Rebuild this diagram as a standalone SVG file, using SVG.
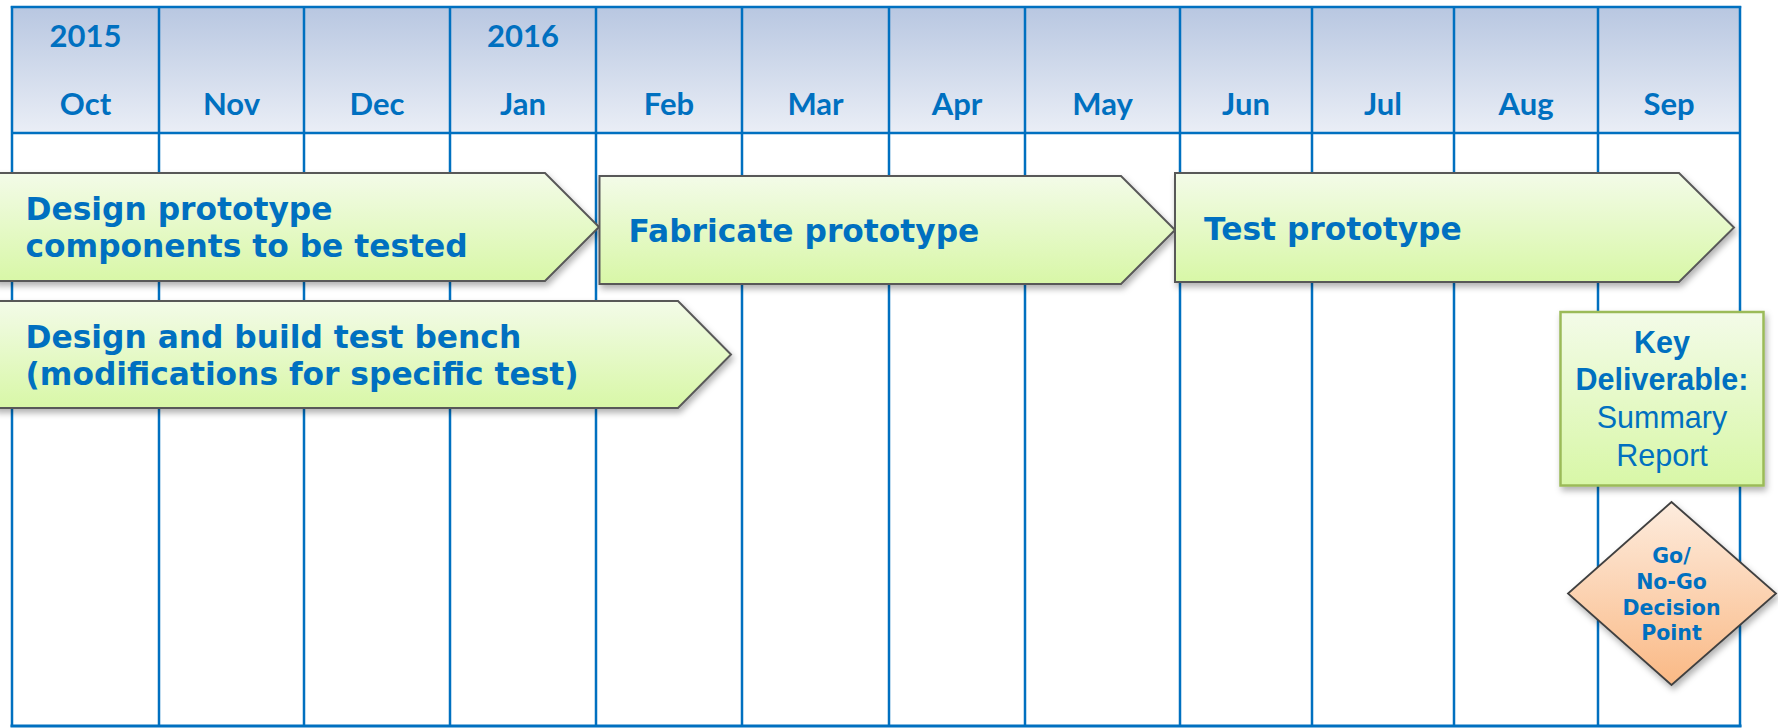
<svg xmlns="http://www.w3.org/2000/svg" width="1778" height="728" viewBox="0 0 1778 728">
  <defs>
    <linearGradient id="hdrFill" x1="0" y1="0" x2="0" y2="1">
      <stop offset="0" stop-color="#B8C7E1"/>
      <stop offset="1" stop-color="#EAEEF6"/>
    </linearGradient>
    <linearGradient id="taskFill" x1="0" y1="0" x2="0" y2="1">
      <stop offset="0" stop-color="#F3FBE8"/>
      <stop offset="1" stop-color="#D8F7A7"/>
    </linearGradient>
    <linearGradient id="gateFill" x1="0" y1="0" x2="0" y2="1">
      <stop offset="0" stop-color="#FDECDE"/>
      <stop offset="1" stop-color="#FAB985"/>
    </linearGradient>
    <filter id="shadow" x="-10%" y="-20%" width="120%" height="150%">
      <feDropShadow dx="2" dy="4" stdDeviation="3" flood-color="#000" flood-opacity="0.3"/>
    </filter>
  </defs>
  <style>
    .grid { stroke: #0070C0; stroke-width: 2.5; fill: none; }
    .hdr { font-family: Lato, "Open Sans", "Liberation Sans", sans-serif; font-weight: 700; font-size: 31px; fill: #0070C0; text-anchor: middle; }
    .task { fill: url(#taskFill); stroke: #595959; stroke-width: 2; filter: url(#shadow); }
    .tlabel { font-family: "DejaVu Sans", Verdana, sans-serif; font-weight: 700; font-size: 31.3px; fill: #0070C0; }
    .deliv { fill: url(#taskFill); stroke: #9BBB59; stroke-width: 2.5; filter: url(#shadow); }
    .dlabel { font-family: "Liberation Sans", Arial, sans-serif; font-size: 30.5px; fill: #0070C0; text-anchor: middle; }
    .gate { fill: url(#gateFill); stroke: #404040; stroke-width: 1.8; filter: url(#shadow); }
    .glabel { font-family: "DejaVu Sans", Verdana, sans-serif; font-weight: 700; font-size: 20.5px; fill: #0070C0; text-anchor: middle; }
  </style>

  <rect width="1778" height="728" fill="#FFFFFF"/>

  <!-- month header band -->
  <g id="header">
    <rect x="12" y="7" width="1728" height="126" fill="url(#hdrFill)"/>
    <text class="hdr" x="85.5" y="47">2015</text>
    <text class="hdr" x="523" y="47">2016</text>
    <text class="hdr" x="85.5" y="115">Oct</text>
    <text class="hdr" x="231.5" y="115">Nov</text>
    <text class="hdr" x="377" y="115">Dec</text>
    <text class="hdr" x="523" y="115">Jan</text>
    <text class="hdr" x="669" y="115">Feb</text>
    <text class="hdr" x="815.5" y="115">Mar</text>
    <text class="hdr" x="957" y="115">Apr</text>
    <text class="hdr" x="1102.5" y="115">May</text>
    <text class="hdr" x="1246" y="115">Jun</text>
    <text class="hdr" x="1383" y="115">Jul</text>
    <text class="hdr" x="1526" y="115">Aug</text>
    <text class="hdr" x="1669" y="115">Sep</text>
  </g>

  <!-- calendar grid -->
  <g id="grid" class="grid">
    <line x1="10.8" y1="7" x2="1741.2" y2="7"/>
    <line x1="12" y1="133" x2="1740" y2="133"/>
    <line x1="10.5" y1="726" x2="1741.5" y2="726" stroke-width="3"/>
    <line x1="12" y1="6" x2="12" y2="727"/>
    <line x1="159" y1="6" x2="159" y2="727"/>
    <line x1="304" y1="6" x2="304" y2="727"/>
    <line x1="450" y1="6" x2="450" y2="727"/>
    <line x1="596" y1="6" x2="596" y2="727"/>
    <line x1="742" y1="6" x2="742" y2="727"/>
    <line x1="889" y1="6" x2="889" y2="727"/>
    <line x1="1025" y1="6" x2="1025" y2="727"/>
    <line x1="1180" y1="6" x2="1180" y2="727"/>
    <line x1="1312" y1="6" x2="1312" y2="727"/>
    <line x1="1454" y1="6" x2="1454" y2="727"/>
    <line x1="1598" y1="6" x2="1598" y2="727"/>
    <line x1="1740" y1="6" x2="1740" y2="727"/>
  </g>

  <g id="connectors"/>

  <!-- task bars -->
  <g id="task-design-components">
    <polygon class="task" points="-6,173 545,173 599,227 545,281 -6,281"/>
    <text class="tlabel" x="25.5" y="220">Design prototype</text>
    <text class="tlabel" x="25.5" y="257">components to be tested</text>
  </g>

  <g id="task-test-bench">
    <polygon class="task" points="-6,301 678,301 731,354.5 678,408 -6,408"/>
    <text class="tlabel" x="25.5" y="348">Design and build test bench</text>
    <text class="tlabel" x="25.5" y="385">(modifications for specific test)</text>
  </g>

  <g id="task-fabricate">
    <polygon class="task" points="599.5,176 1121,176 1175,230 1121,284 599.5,284"/>
    <text class="tlabel" x="628.5" y="242">Fabricate prototype</text>
  </g>

  <g id="task-test">
    <polygon class="task" points="1175,173 1679,173 1734,227.5 1679,282 1175,282"/>
    <text class="tlabel" x="1204" y="240">Test prototype</text>
  </g>

  <!-- deliverable -->
  <g id="deliverable">
    <rect class="deliv" x="1560.5" y="312" width="203" height="173.5"/>
    <text class="dlabel" x="1662" y="353" font-weight="700">Key</text>
    <text class="dlabel" x="1662" y="390" font-weight="700">Deliverable:</text>
    <text class="dlabel" x="1662" y="428">Summary</text>
    <text class="dlabel" x="1662" y="466">Report</text>
  </g>

  <!-- decision gate -->
  <g id="decision">
    <polygon class="gate" points="1671.5,502 1776,593.5 1671.5,685 1568,593.5"/>
    <text class="glabel" x="1671.5" y="562.5">Go/</text>
    <text class="glabel" x="1671.5" y="588.5">No-Go</text>
    <text class="glabel" x="1671.5" y="614.5">Decision</text>
    <text class="glabel" x="1671.5" y="640">Point</text>
  </g>
</svg>
